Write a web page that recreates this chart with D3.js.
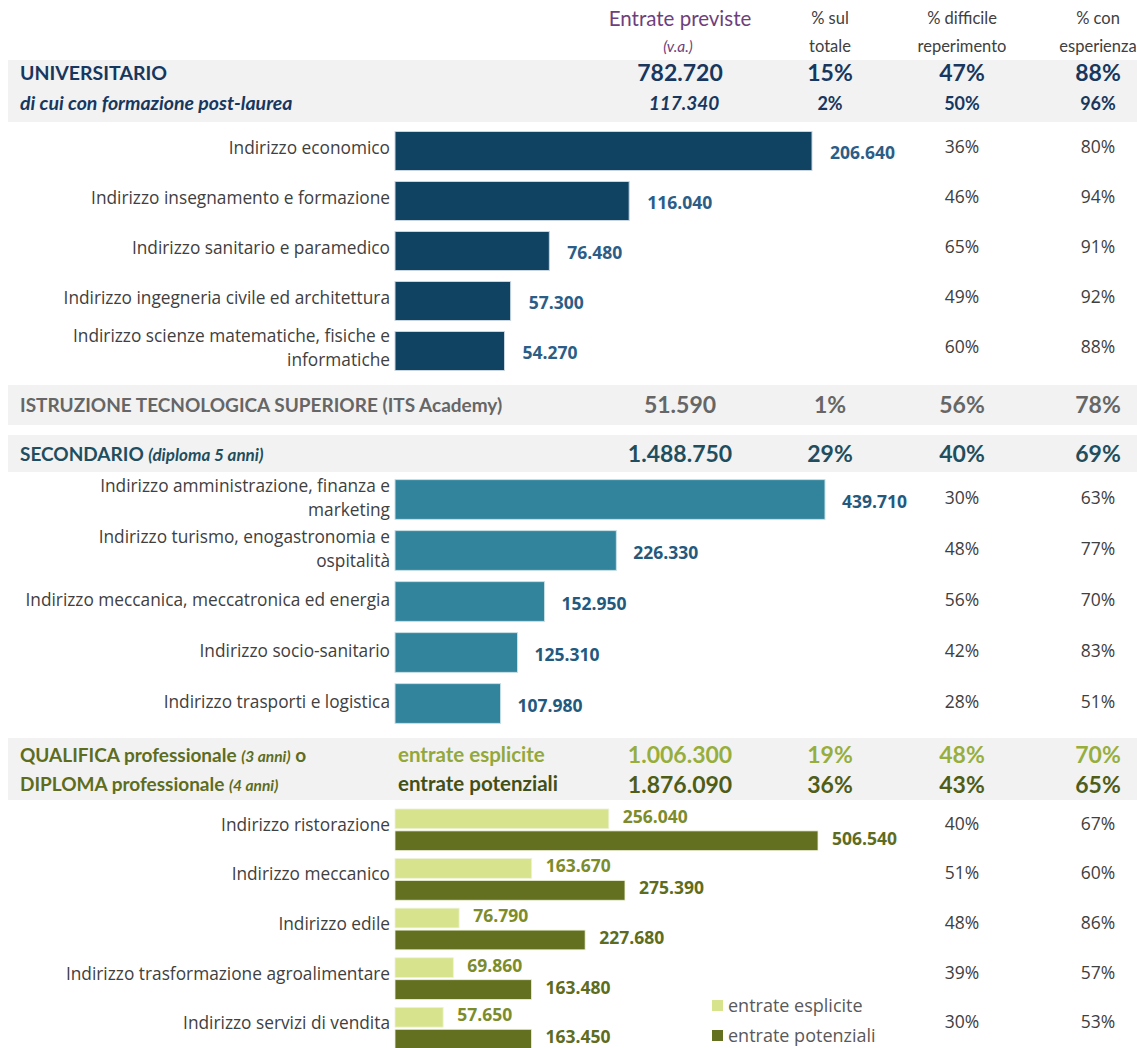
<!DOCTYPE html>
<html><head><meta charset="utf-8">
<script src="https://cdn.jsdelivr.net/npm/d3@7"></script>
<style>
body{margin:0;background:#fff;}
svg{display:block;}
</style></head>
<body>
<script>
// ---------- DATA ----------
const headCols = ["Entrate previste", "% sul", "% difficile", "% con"];
const headCols2 = ["(v.a.)", "totale", "reperimento", "esperienza"];

const univSummary = ["782.720", "15%", "47%", "88%"];
const univPostSummary = ["117.340", "2%", "50%", "96%"];
const itsSummary = ["51.590", "1%", "56%", "78%"];
const secSummary = ["1.488.750", "29%", "40%", "69%"];
const qualEspSummary = ["1.006.300", "19%", "48%", "70%"];
const qualPotSummary = ["1.876.090", "36%", "43%", "65%"];

const univCats = ["Indirizzo economico", "Indirizzo insegnamento e formazione", "Indirizzo sanitario e paramedico", "Indirizzo ingegneria civile ed architettura", "Indirizzo scienze matematiche, fisiche e\ninformatiche"];
const univVals = [206640, 116040, 76480, 57300, 54270];
const univDiff = ["36%", "46%", "65%", "49%", "60%"];
const univEsp = ["80%", "94%", "91%", "92%", "88%"];

const secCats = ["Indirizzo amministrazione, finanza e\nmarketing", "Indirizzo turismo, enogastronomia e\nospitalità", "Indirizzo meccanica, meccatronica ed energia", "Indirizzo socio-sanitario", "Indirizzo trasporti e logistica"];
const secVals = [439710, 226330, 152950, 125310, 107980];
const secDiff = ["30%", "48%", "56%", "42%", "28%"];
const secEsp = ["63%", "77%", "70%", "83%", "51%"];

const qualCats = ["Indirizzo ristorazione", "Indirizzo meccanico", "Indirizzo edile", "Indirizzo trasformazione agroalimentare", "Indirizzo servizi di vendita"];
const qualEsp = [256040, 163670, 76790, 69860, 57650];
const qualPot = [506540, 275390, 227680, 163480, 163450];
const qualDiff = ["40%", "51%", "48%", "39%", "30%"];
const qualEspPct = ["67%", "60%", "86%", "57%", "53%"];
const legendLabels = ["entrate esplicite", "entrate potenziali"];

// ---------- LAYOUT ----------
const W = 1137, H = 1048;
const colX = [680, 830, 962, 1098];
const barX0 = 395;
const fmt = v => d3.format(",")(v).replace(/,/g, ".");
const HF = "Lato, 'Open Sans', sans-serif";
const LF = "'Open Sans', sans-serif";
const LS = 17.3;   // label size
const VS = 17.5;   // value label size
const PS = 17.5;   // pct size

const svg = d3.select("body").append("svg").attr("width", W).attr("height", H);

// bands
const bands = [[60, 122], [385, 425], [435, 472], [738, 800]];
svg.selectAll("rect.band").data(bands).join("rect").attr("class", "band")
  .attr("x", 8).attr("width", W - 8).attr("y", d => d[0]).attr("height", d => d[1] - d[0])
  .attr("fill", "#f2f2f2");

// header
headCols.forEach((t, i) => {
  svg.append("text").attr("x", colX[i]).attr("y", i === 0 ? 26 : 24).attr("text-anchor", "middle")
    .attr("font-family", HF).attr("font-size", i === 0 ? 20.5 : 16.5)
    .attr("fill", i === 0 ? "#6e3f7c" : "#404040").text(t);
  svg.append("text").attr("x", colX[i] + (i === 0 ? -2 : 0)).attr("y", 52).attr("text-anchor", "middle")
    .attr("font-family", HF).attr("font-size", i === 0 ? 15.5 : 16.5)
    .attr("font-style", i === 0 ? "italic" : "normal")
    .attr("fill", i === 0 ? "#6e3f7c" : "#404040").text(headCols2[i]);
});

function summaryRow(y, vals, color, size, italicFirst, xOff, sizeRest) {
  vals.forEach((v, i) => {
    svg.append("text").attr("x", colX[i] + (i === 0 ? (xOff || 0) : 0)).attr("y", y).attr("text-anchor", "middle")
      .attr("font-family", HF).attr("font-weight", "bold").attr("font-size", i === 0 ? size : (sizeRest || size))
      .attr("font-style", italicFirst && i === 0 ? "italic" : "normal").attr("fill", color).text(v);
  });
}

// UNIVERSITARIO
svg.append("text").attr("x", 20).attr("y", 80).attr("font-family", HF).attr("font-weight", "bold")
  .attr("font-size", 19.5).attr("fill", "#17375e").text("UNIVERSITARIO");
summaryRow(81, univSummary, "#17375e", 23, false);
svg.append("text").attr("x", 20).attr("y", 110).attr("font-family", HF).attr("font-weight", "bold")
  .attr("font-style", "italic").attr("font-size", 19.5).attr("fill", "#17375e").text("di cui con formazione post-laurea");
summaryRow(110, univPostSummary, "#17375e", 19, true, 4, 18);

// ITS
svg.append("text").attr("x", 20).attr("y", 412).attr("font-family", HF).attr("font-weight", "bold")
  .attr("font-size", 19).attr("fill", "#666666").text("ISTRUZIONE TECNOLOGICA SUPERIORE (ITS Academy)");
summaryRow(413, itsSummary, "#666666", 23, false);

// SECONDARIO
const secT = svg.append("text").attr("x", 20).attr("y", 461).attr("font-family", HF).attr("font-weight", "bold")
  .attr("font-size", 19).attr("fill", "#1f4e5e");
secT.append("tspan").text("SECONDARIO ");
secT.append("tspan").attr("font-style", "italic").attr("font-size", 17).text("(diploma 5 anni)");
summaryRow(462, secSummary, "#1f4e5e", 23, false);

// QUALIFICA
const q1 = svg.append("text").attr("x", 20).attr("y", 762).attr("font-family", HF).attr("font-weight", "bold")
  .attr("font-size", 19).attr("fill", "#5d6d1d");
q1.append("tspan").text("QUALIFICA professionale ");
q1.append("tspan").attr("font-style", "italic").attr("font-size", 15.5).text("(3 anni)");
q1.append("tspan").text(" o");
const q2 = svg.append("text").attr("x", 20).attr("y", 791).attr("font-family", HF).attr("font-weight", "bold")
  .attr("font-size", 19).attr("fill", "#5d6d1d");
q2.append("tspan").text("DIPLOMA professionale ");
q2.append("tspan").attr("font-style", "italic").attr("font-size", 15.5).text("(4 anni)");
svg.append("text").attr("x", 398).attr("y", 762).attr("font-family", HF).attr("font-weight", "bold")
  .attr("font-size", 20.5).attr("fill", "#93a83a").text(legendLabels[0]);
svg.append("text").attr("x", 398).attr("y", 791).attr("font-family", HF).attr("font-weight", "bold")
  .attr("font-size", 20.5).attr("fill", "#434f17").text(legendLabels[1]);
summaryRow(763, qualEspSummary, "#97ae3c", 23, false);
summaryRow(793, qualPotSummary, "#4f5d17", 23, false);

// ---------- helpers ----------
function drawLabels(g, cats, y, dy) {
  cats.forEach(c => {
    const lines = c.split("\n");
    const cy = y(c) + y.bandwidth() / 2 + (dy || 0);
    const t = g.append("text").attr("text-anchor", "end").attr("font-family", LF).attr("font-size", LS)
      .attr("fill", "#404040");
    lines.forEach((l, i) => {
      t.append("tspan").attr("x", 390)
        .attr("y", cy + (i - (lines.length - 1) / 2) * 24 + 6).text(l);
    });
  });
}
function drawPcts(g, cats, y, a, b, dy) {
  cats.forEach((c, i) => {
    const cy = y(c) + y.bandwidth() / 2 + dy;
    [a[i], b[i]].forEach((v, k) => {
      g.append("text").attr("x", colX[k + 2]).attr("y", cy).attr("text-anchor", "middle")
        .attr("font-family", LF).attr("font-size", PS).attr("fill", "#404040").text(v);
    });
  });
}

// ---------- UNIVERSITARIO bars ----------
const gU = svg.append("g");
const yU = d3.scaleBand().domain(univCats).range([126, 376]).paddingInner(0.22).paddingOuter(0.11);
const xU = d3.scaleLinear().domain([0, d3.max(univVals)]).range([barX0, 812]);
gU.selectAll("rect").data(univCats).join("rect")
  .attr("x", xU(0)).attr("y", d => yU(d)).attr("height", yU.bandwidth())
  .attr("width", (d, i) => xU(univVals[i]) - xU(0)).attr("fill", "#104262")
  .attr("stroke", "#c9d6e2").attr("stroke-width", 1);
gU.selectAll("text.v").data(univCats).join("text").attr("class", "v")
  .attr("x", (d, i) => xU(univVals[i]) + 18).attr("y", d => yU(d) + yU.bandwidth() / 2 + 8)
  .attr("font-family", LF).attr("font-weight", "bold").attr("font-size", VS).attr("fill", "#2b5d87")
  .text((d, i) => fmt(univVals[i]));
drawLabels(gU, univCats, yU, -3);
drawPcts(gU, univCats, yU, univDiff, univEsp, 2);

// ---------- SECONDARIO bars ----------
const gS = svg.append("g");
const yS = d3.scaleBand().domain(secCats).range([474, 729]).paddingInner(0.22).paddingOuter(0.11);
const xS = d3.scaleLinear().domain([0, d3.max(secVals)]).range([barX0, 825]);
gS.selectAll("rect").data(secCats).join("rect")
  .attr("x", xS(0)).attr("y", d => yS(d)).attr("height", yS.bandwidth())
  .attr("width", (d, i) => xS(secVals[i]) - xS(0)).attr("fill", "#31849b")
  .attr("stroke", "#c8e0e6").attr("stroke-width", 1);
gS.selectAll("text.v").data(secCats).join("text").attr("class", "v")
  .attr("x", (d, i) => xS(secVals[i]) + 17).attr("y", d => yS(d) + yS.bandwidth() / 2 + 8)
  .attr("font-family", LF).attr("font-weight", "bold").attr("font-size", VS).attr("fill", "#24597e")
  .text((d, i) => fmt(secVals[i]));
drawLabels(gS, secCats, yS, -2);
drawPcts(gS, secCats, yS, secDiff, secEsp, 4);

// ---------- QUALIFICA bars ----------
const gQ = svg.append("g");
const series = ["esp", "pot"];
const seriesVals = { esp: qualEsp, pot: qualPot };
const seriesColor = { esp: "#d7e48d", pot: "#627020" };
const seriesText = { esp: "#7d8c2b", pot: "#5e6c20" };
const yQ = d3.scaleBand().domain(qualCats).range([805, 1053]).paddingInner(0.16).paddingOuter(0.08);
const yQi = d3.scaleBand().domain(series).range([0, yQ.bandwidth()]).paddingInner(0.1);
const xQ = d3.scaleLinear().domain([0, d3.max(qualPot)]).range([barX0, 818]);
series.forEach(s => {
  gQ.selectAll("rect." + s).data(qualCats).join("rect").attr("class", s)
    .attr("x", xQ(0)).attr("y", d => yQ(d) + yQi(s)).attr("height", yQi.bandwidth())
    .attr("width", (d, i) => xQ(seriesVals[s][i]) - xQ(0)).attr("fill", seriesColor[s])
    .attr("stroke", "#eef2d8").attr("stroke-width", 0.8);
  gQ.selectAll("text." + s).data(qualCats).join("text").attr("class", s)
    .attr("x", (d, i) => xQ(seriesVals[s][i]) + 14).attr("y", d => yQ(d) + yQi(s) + yQi.bandwidth() / 2 + 4)
    .attr("font-family", LF).attr("font-weight", "bold").attr("font-size", VS).attr("fill", seriesText[s])
    .text((d, i) => fmt(seriesVals[s][i]));
});
drawLabels(gQ, qualCats, yQ, -5);
drawPcts(gQ, qualCats, yQ, qualDiff, qualEspPct, 0);

// legend
const lg = svg.append("g");
series.forEach((s, i) => {
  lg.append("rect").attr("x", 712).attr("y", 1000 + i * 30).attr("width", 11).attr("height", 11)
    .attr("fill", seriesColor[s]);
  lg.append("text").attr("x", 728).attr("y", 1012 + i * 30).attr("font-family", LF).attr("font-size", 18)
    .attr("fill", "#595959").text(legendLabels[i]);
});
</script>
</body></html>
